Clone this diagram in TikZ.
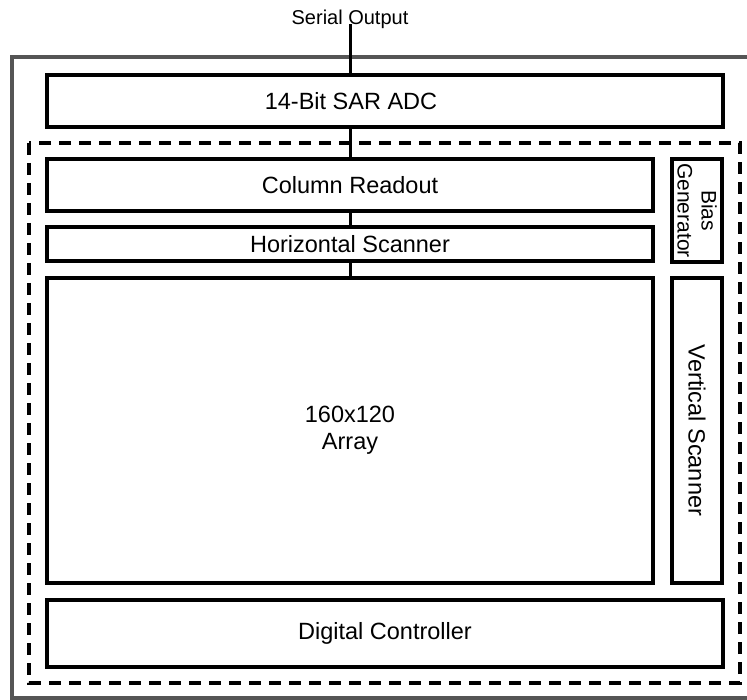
\documentclass[tikz,border=0pt]{standalone}
\usepackage{fontspec}
\setmainfont{Liberation Sans}
\definecolor{framegray}{HTML}{555555}
\begin{document}
\begin{tikzpicture}[x=1pt,y=-1pt,
  block/.style={draw=black,line width=3.2pt,rectangle,inner sep=0pt,outer sep=0pt,
    font=\fontsize{23.5}{27}\selectfont,align=center},
  smalltext/.style={font=\fontsize{20}{24}\selectfont,align=center,inner sep=0pt},
  wire/.style={line width=3pt},
  region/.style={line width=3.4pt,dash pattern=on 12pt off 8pt},
  chip/.style={draw=framegray,line width=4.5pt}]
\useasboundingbox (0,0) rectangle (747,700);
\clip (0,0) rectangle (747,700);

% chip outline (runs off the right edge)
\draw[chip] (12,57) rectangle (780,698);

% analog/pixel region
\draw[region] (29,143) rectangle (740,683);

% blocks
\node[block,minimum width=676pt,minimum height=52pt,
  label={[font=\fontsize{23.5}{27}\selectfont,xshift=-34pt]center:14-Bit SAR ADC}]
  (adc) at (385,101) {};
\node[block,minimum width=606pt,minimum height=52pt] (colro) at (350,185) {Column Readout};
\node[block,minimum width=606pt,minimum height=34pt] (hscan) at (350,244) {Horizontal Scanner};
\node[block,minimum width=606pt,minimum height=305pt] (array) at (350,430.5) {160x120\\Array};
\node[block,minimum width=103pt,minimum height=50pt,rotate=-90,
  font=\fontsize{21}{24}\selectfont] (bias) at (697,210.5) {Bias\\Generator};
\node[block,minimum width=50pt,minimum height=305pt] (vscan) at (697,430.5) {};
\node[rotate=-90,font=\fontsize{23.5}{27}\selectfont,inner sep=0pt] (vscantext) at (vscan.center) {Vertical Scanner};
\node[block,minimum width=676pt,minimum height=67pt] (dig) at (385,633.5) {Digital Controller};

% serial output and data path
\node[smalltext] (sertext) at (350,19) {Serial Output};
\coordinate (sotop) at (350,24);
\draw[wire] (sotop) -- (sotop |- adc.north);
\draw[wire] (sotop |- adc.south) -- (sotop |- colro.north);
\draw[wire] (sotop |- colro.south) -- (sotop |- hscan.north);
\draw[wire] (sotop |- hscan.south) -- (sotop |- array.north);
\end{tikzpicture}
\end{document}
